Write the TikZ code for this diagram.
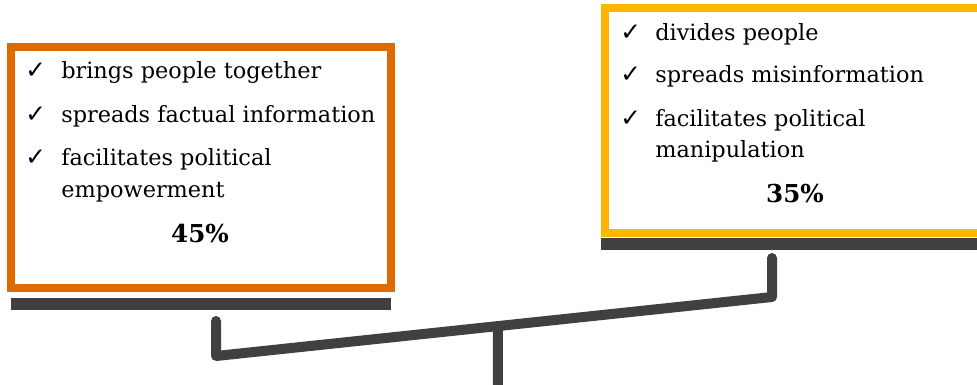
\documentclass[tikz,border=0pt]{standalone}
\usepackage{fontspec}
\usetikzlibrary{calc}
\setmainfont{DejaVu Serif}
\newfontfamily\symfont{DejaVu Sans}
\definecolor{procolor}{HTML}{DE6A00}
\definecolor{concolor}{HTML}{FFB600}
\definecolor{beamgray}{HTML}{404040}
\begin{document}
\begin{tikzpicture}[x=0.75pt,y=-0.75pt,
  panel/.style={line width=6pt},
  shelf/.style={beamgray,line width=9pt},
  beam/.style={beamgray,line width=7.5pt,line cap=round,line join=round},
  item/.style={anchor=base west,inner sep=0pt,font=\fontsize{16.8}{19}\selectfont},
  tick/.style={anchor=base west,inner sep=0pt,font=\symfont\bfseries\fontsize{18.5}{20}\selectfont},
  share/.style={anchor=base,inner sep=0pt,font=\fontsize{18.5}{21}\selectfont\bfseries}]
\useasboundingbox (0,0) rectangle (977,385);
\clip (0,0) rectangle (977,385);

% left panel: benefits
\draw[panel,procolor] (11,47) rectangle (391,288);
\draw[shelf] (11,304) -- (391,304);
\node[tick] (lt1) at (25,79) {✓};
\node[item] (lb1) at (61,79) {brings people together};
\node[tick] (lt2) at (25,122) {✓};
\node[item] (lb2) at (61,122) {spreads factual information};
\node[tick] (lt3) at (25,165) {✓};
\node[item] (lb3) at (61,165) {facilitates political};
\node[item] (lb4) at (61,197) {empowerment};
\node[share] (lpct) at (200,242) {45\%};

% right panel: harms
\draw[panel,concolor] (605,8) rectangle (990,233);
\draw[shelf] (601,244) -- (990,244);
\node[tick] (rt1) at (620,41) {✓};
\node[item] (rb1) at (655,41) {divides people};
\node[tick] (rt2) at (620,83) {✓};
\node[item] (rb2) at (655,83) {spreads misinformation};
\node[tick] (rt3) at (620,126) {✓};
\node[item] (rb3) at (655,126) {facilitates political};
\node[item] (rb4) at (655,157) {manipulation};
\node[share] (rpct) at (795,202) {35\%};

% tilted balance beam
\coordinate (lt) at (216,321);
\coordinate (lc) at (216,356);
\coordinate (rc) at (772,297);
\coordinate (rt) at (772,258);
\coordinate (pivot) at ($(lc)!0.507!(rc)$);
\coordinate (base) at (498,395);
\draw[beam] (lt) -- (lc) -- (rc) -- (rt);
\draw[beamgray,line width=7.5pt] (pivot) -- (base);
\end{tikzpicture}
\end{document}
